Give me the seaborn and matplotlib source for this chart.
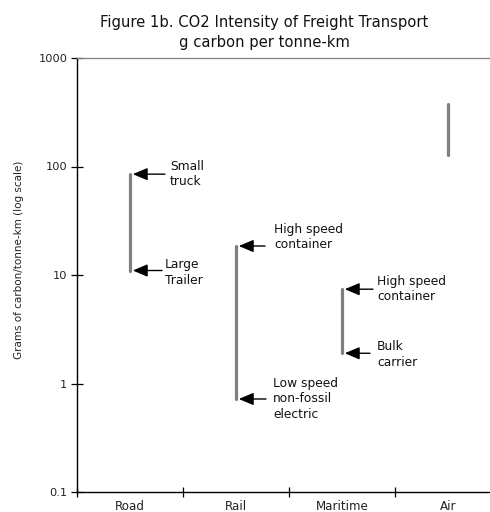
import matplotlib
matplotlib.use("Agg")
import matplotlib.pyplot as plt
import seaborn as sns
import pandas as pd
from matplotlib.ticker import FixedLocator, NullLocator, FuncFormatter

# Range of carbon intensity (g carbon per tonne-km) for each freight mode
modes = ["Road", "Rail", "Maritime", "Air"]
low_values = [11, 0.72, 1.9, 128]
high_values = [85, 18.5, 7.4, 377]

# Labels for the ends of each range (mode, which end, text)
note_modes = ["Road", "Road", "Rail", "Rail", "Maritime", "Maritime"]
note_ends = ["high", "low", "high", "low", "high", "low"]
note_texts = ["Small\ntruck", "Large\nTrailer", "High speed\ncontainer",
              "Low speed\nnon-fossil\nelectric", "High speed\ncontainer",
              "Bulk\ncarrier"]

y_ticks = [0.1, 1, 10, 100, 1000]

sns.set_theme(style="white")
plt.rcParams["font.family"] = ["DejaVu Sans"]

df = pd.DataFrame({
    "mode": modes * 2,
    "value": low_values + high_values,
})

fig = plt.figure(figsize=(4.9, 5.12), dpi=100)
ax = fig.add_axes([77 / 490, 20 / 512, 424 / 490, 434 / 512])
ax.set_yscale("log")

sns.lineplot(data=df, x="mode", y="value", units="mode", estimator=None,
             color="#808080", linewidth=2.3, ax=ax, sort=False)

ax.set_xlim(-0.5, 3.5)
ax.set_ylim(0.1, 1000)

# Y axis: decades only
ax.yaxis.set_major_locator(FixedLocator(y_ticks))
ax.yaxis.set_minor_locator(NullLocator())
ax.yaxis.set_major_formatter(FuncFormatter(lambda v, p: f"{v:g}"))
ax.tick_params(axis="y", which="major", direction="inout", length=8,
               width=0.9, color="black", labelsize=8.2, pad=3,
               left=True)

# X axis: ticks at category boundaries, labels at category centres
ax.xaxis.set_major_locator(FixedLocator([-0.5, 0.5, 1.5, 2.5, 3.5]))
ax.xaxis.set_major_formatter(FuncFormatter(lambda v, p: ""))
ax.xaxis.set_minor_locator(FixedLocator(range(len(modes))))
ax.xaxis.set_minor_formatter(FuncFormatter(lambda v, p: modes[int(round(v))]))
ax.tick_params(axis="x", which="major", direction="inout", length=7,
               width=0.9, color="black", bottom=True)
ax.tick_params(axis="x", which="minor", length=0, labelsize=8.6, pad=6,
               bottom=True)

ax.set_xlabel("")
ax.set_ylabel("")
fig.text(19 / 490, 1 - 260 / 512, "Grams of carbon/tonne-km (log scale)",
         rotation=90, ha="center", va="center", fontsize=7.5, color="#222222")

for side in ["left", "bottom"]:
    ax.spines[side].set_color("black")
    ax.spines[side].set_linewidth(1.0)
ax.spines["top"].set_color("#808080")
ax.spines["top"].set_linewidth(0.9)
ax.spines["right"].set_visible(False)
for lab in ax.get_yticklabels() + ax.get_xticklabels(minor=True):
    lab.set_color("#222222")

# Arrows pointing at the ends of the ranges, with their labels
tail_dx = [35, 32, 29, 30, 31, 28]
text_dx = [40, 35, 38, 37, 35, 35]
text_dy = [0, -2, 9, 0, 0, -1]
px = 72 / 100
for m, end, txt, tdx, xdx, ydy in zip(note_modes, note_ends, note_texts,
                                     tail_dx, text_dx, text_dy):
    i = modes.index(m)
    val = high_values[i] if end == "high" else low_values[i]
    ax.annotate("", xy=(i, val), xycoords="data",
                xytext=(tdx * px, 0), textcoords="offset points",
                arrowprops=dict(arrowstyle="-|>,head_length=0.9,head_width=0.38",
                                mutation_scale=10, color="black", lw=1.0,
                                shrinkA=0, shrinkB=2))
    ax.annotate(txt, xy=(i, val), xycoords="data",
                xytext=(xdx * px, ydy * px), textcoords="offset points",
                ha="left", va="center", fontsize=8.8, linespacing=1.25,
                color="#111111")

fig.text(264 / 490, 1 - 22 / 512, "Figure 1b. CO2 Intensity of Freight Transport",
         ha="center", va="center", fontsize=10.6, color="#111111")
fig.text(264 / 490, 1 - 42 / 512, "g carbon per tonne-km",
         ha="center", va="center", fontsize=10.6, color="#111111")

fig.savefig("out.png", dpi=100)
